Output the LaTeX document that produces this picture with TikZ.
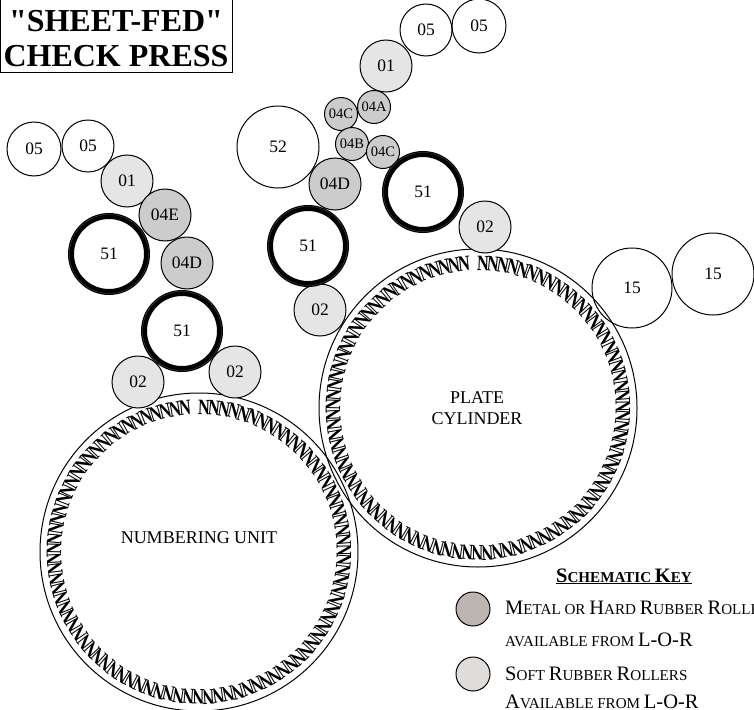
\documentclass[tikz,border=0pt]{standalone}
\usepackage{fontspec}
\setmainfont{Liberation Serif}
\newfontfamily\titlefont{Liberation Serif}[Ligatures=TeXOff]
\newcommand{\bigc}[1]{{\fontsize{20.5}{20.5}\selectfont #1}}
\definecolor{keymetalfill}{HTML}{BDB5B1}
\definecolor{keysoftfill}{HTML}{E0DCD9}
\tikzset{
	roller/.style={circle,draw,line width=1pt,inner sep=0pt,outer sep=0pt,font=\fontsize{17.5}{18}\selectfont},
	softroller/.style={roller,fill=black!10},
	hardroller/.style={roller,fill=black!20},
	inkroller/.style={roller,line width=6pt,minimum size=76pt},
	cylinder/.style={roller,minimum size=318pt},
	cyllabel/.style={align=center,inner sep=0pt,font=\fontsize{18}{21}\selectfont},
	keytext/.style={anchor=base west,inner sep=0pt,font=\fontsize{15.1}{16}\selectfont},
	ntooth/.style={inner sep=0pt,font=\fontsize{22}{22}\bfseries\selectfont}
}
\begin{document}
\begin{tikzpicture}[x=1pt,y=-1pt]
	\useasboundingbox (0,0) rectangle (754,709);
	\clip (0,0) rectangle (754,709);
	
	% cylinders
	\node[cylinder] (plate) at (478,408) {};
	\node[cylinder] (numbering) at (199,552) {};
	\node[cyllabel] (platelabel) at (477,408) {PLATE\\CYLINDER};
	\node[cyllabel] (numberinglabel) at (199,538) {NUMBERING UNIT};
	
	% teeth
	\foreach \c in {plate,numbering}{
		\foreach \i in {1,...,90}{
			\pgfmathsetmacro{\a}{-88+(\i-1)*3.96}
			\pgfmathsetmacro{\r}{-\a-90}
			\node[ntooth,rotate=\r] (\c-n\i) at ([shift={(\a:145)}]\c.center) {\scalebox{0.74}[1]{N}};
		}
	}
	
	% white rollers
	\foreach \x/\y/\z/\d/\t in
	{wa/426/30/52/05, wb/479/26/54/05, wc/34/149/54/05, wd/88/146/52/05,
	 we/278/147/82/52, wf/632/288/80/15, wg/713/274/82/15}{
		\node[roller,minimum size=\d pt] (\x) at (\y,\z) {\t};
	}
	
	% soft rollers
	\foreach \x/\y/\z/\t in
	{sa/386/66/01, sb/320/310/02, sc/485/227/02, sd/127/181/01, se/138/382/02, sf/235/372/02}{
		\node[softroller,minimum size=52pt] (\x) at (\y,\z) {\t};
	}
	
	% hard rollers
	\foreach \x/\y/\z/\t in
	{ha/335/184/04D, hb/165/215/04E, hc/187/263/04D}{
		\node[hardroller,minimum size=52pt] (\x) at (\y,\z) {\t};
	}
	\foreach \x/\y/\z/\t in
	{ra/374/107/04A, rb/341/114/04C, rc/352/144/04B, rd/383/152/04C}{
		\node[hardroller,minimum size=33pt,font=\fontsize{14.5}{15}\selectfont] (\x) at (\y,\z) {\t};
	}
	
	% ink rollers
	\foreach \x/\y/\z in
	{ia/423/192, ib/308/246, ic/109/254, id/182/331}{
		\node[inkroller] (\x) at (\y,\z) {51};
		\draw[black!65,line width=0.3pt] (\x.center) circle (39.6);
	}
	
	% title
	\draw[line width=1pt] (0,-5) rectangle (232,72);
	\node[inner sep=0pt,align=center,font=\titlefont\fontsize{32}{35}\bfseries\selectfont] (title) at (116,39)
		{"SHEET-FED"\\CHECK PRESS};
	
	% key
	\node[anchor=base,inner sep=0pt,font=\fontsize{15.1}{16}\bfseries\selectfont] (keyhead) at (624,582)
		{\underline{\bigc{S}CHEMATIC \bigc{K}EY}};
	\node[roller,minimum size=34pt,fill=keymetalfill] (keymetal) at (473,609) {};
	\node[roller,minimum size=34pt,fill=keysoftfill] (keysoft) at (473,674) {};
	\node[keytext] (keya) at (505,614) {\bigc{M}ETAL OR \bigc{H}ARD \bigc{R}UBBER \bigc{R}OLLERS};
	\node[keytext] (keyb) at (505,646) {AVAILABLE FROM \bigc{L-O-R}};
	\node[keytext] (keyc) at (505,680) {\bigc{S}OFT \bigc{R}UBBER \bigc{R}OLLERS};
	\node[keytext] (keyd) at (505,708) {\bigc{A}VAILABLE FROM \bigc{L-O-R}};
\end{tikzpicture}
\end{document}
